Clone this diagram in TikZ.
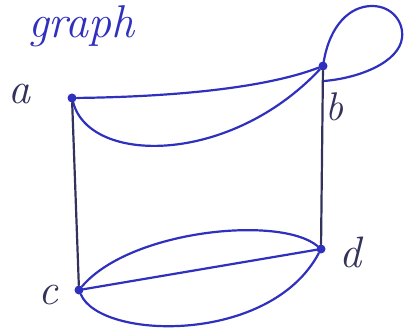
\documentclass[tikz,border=0pt]{standalone}
\definecolor{inkblue}{RGB}{48,48,190}
\definecolor{inkgray}{RGB}{50,50,90}
\begin{document}
\begin{tikzpicture}[x=1pt,y=-1pt,
  ink/.style={draw=inkblue, line width=2.2pt, line cap=round},
  inkdark/.style={draw=inkgray, line width=2.2pt, line cap=round},
  vtx/.style={circle, fill=inkblue, inner sep=0pt, minimum size=9pt},
  lab/.style={text=inkgray, inner sep=0pt, font=\fontsize{44}{44}\selectfont\itshape}]
\useasboundingbox (0,0) rectangle (406,328);
\node[vtx] (a) at (72,98) {};
\node[vtx] (b) at (323,66) {};
\node[vtx] (c) at (79,290) {};
\node[vtx] (d) at (321,249) {};
\coordinate (bl) at (324,81);
% labels
\node[lab, anchor=base] (ta) at (20,104) {a};
\node[lab, anchor=base, font=\fontsize{40}{40}\selectfont\itshape] (tb) at (334,121) {b};
\node[lab, anchor=base] (tc) at (48,304) {c};
\node[lab, anchor=base] (td) at (350,267) {d};
\node[lab, anchor=base west, text=inkblue, font=\fontsize{46}{46}\selectfont\itshape] (title) at (28,38) {graph};
% edges a-b
\draw[ink] (a) .. controls (160,97) and (260,90) .. (b);
\draw[ink] (a) .. controls (90,165) and (230,165) .. (b);
% loop at b
\draw[ink] (b) .. controls (330,25) and (350,6) .. (372,6)
  .. controls (392,6) and (404,22) .. (402,38)
  .. controls (399,62) and (360,78) .. (bl);
% verticals
\draw[inkdark] (a) -- (c);
\draw[inkdark] (b) -- (d);
% edges c-d
\draw[ink] (c) .. controls (130,230) and (280,215) .. (d);
\draw[ink] (c) -- (d);
\draw[ink] (c) .. controls (100,340) and (270,345) .. (d);
\end{tikzpicture}
\end{document}
